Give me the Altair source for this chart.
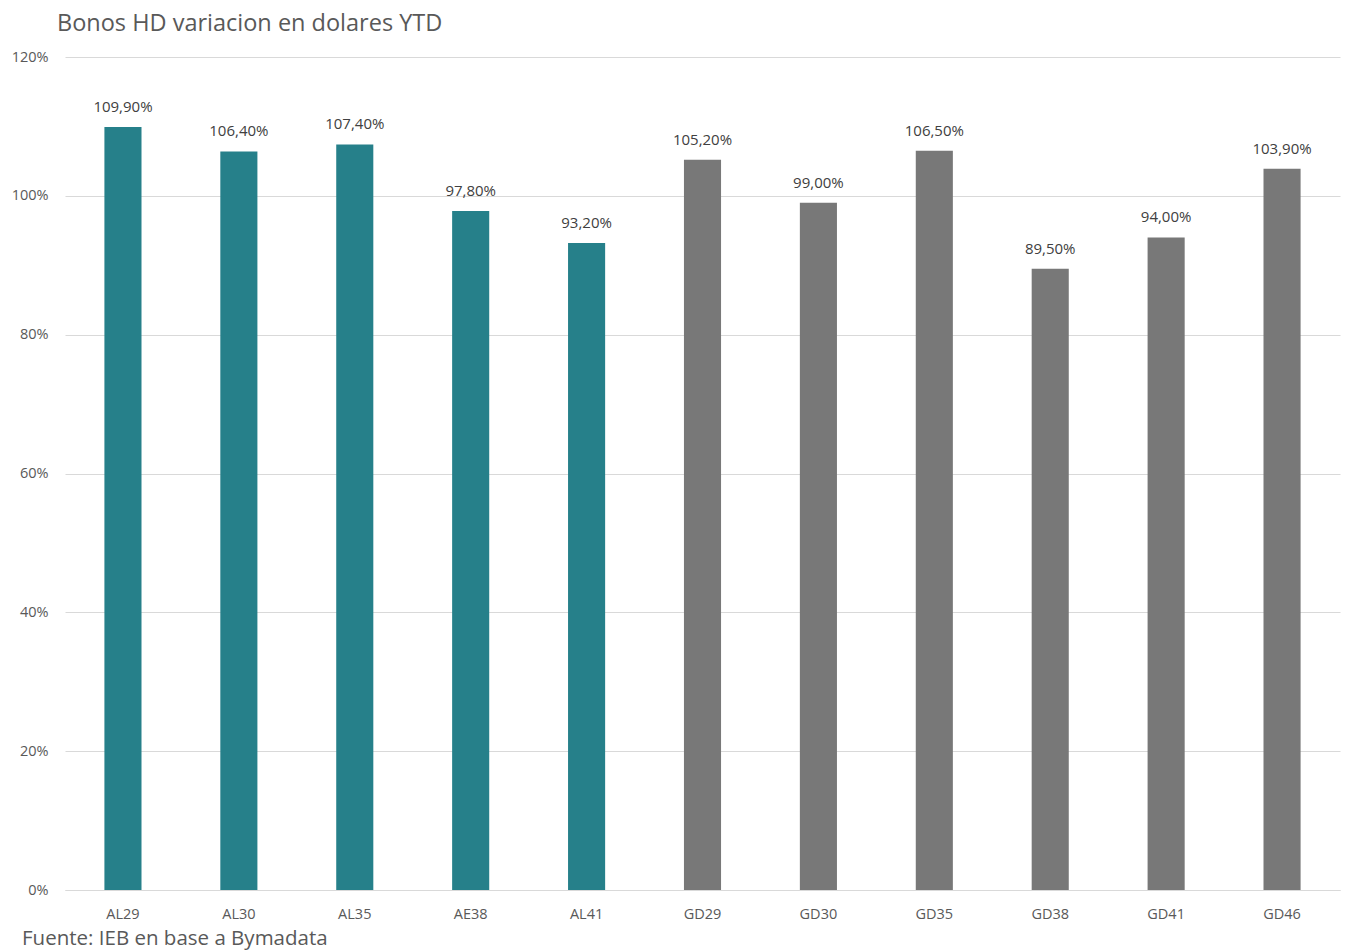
import altair as alt
import pandas as pd

bonds = ["AL29", "AL30", "AL35", "AE38", "AL41", "GD29", "GD30", "GD35", "GD38", "GD41", "GD46"]
values = [109.9, 106.4, 107.4, 97.8, 93.2, 105.2, 99.0, 106.5, 89.5, 94.0, 103.9]
groups = ["AL", "AL", "AL", "AL", "AL", "GD", "GD", "GD", "GD", "GD", "GD"]

df = pd.DataFrame({
    "bond": bonds,
    "value": [v / 100 for v in values],
    "group": groups,
    "label": [f"{v:.2f}".replace(".", ",") + "%" for v in values],
})

W, H = 1275, 833
FONT = "Open Sans"

base = alt.Chart(df).encode(
    x=alt.X("bond:N", sort=bonds, title=None,
            scale=alt.Scale(paddingInner=0.68, paddingOuter=0.34),
            axis=alt.Axis(labelAngle=0, labelFontSize=14.5, labelColor="#595959", labelFont=FONT,
                          ticks=False, domainColor="#d9d9d9", labelPadding=17)),
    y=alt.Y("value:Q", title=None,
            scale=alt.Scale(domain=[0, 1.2], nice=False),
            axis=alt.Axis(values=[0, 0.2, 0.4, 0.6, 0.8, 1.0, 1.2], format=".0%",
                          labelFontSize=14.5, labelColor="#595959", labelFont=FONT,
                          ticks=False, domain=False, gridColor="#d9d9d9", labelPadding=17)),
)

bars = base.mark_bar().encode(
    color=alt.Color("group:N", scale=alt.Scale(domain=["AL", "GD"], range=["#26808a", "#787878"]), legend=None)
)

labels = base.mark_text(dy=-20, fontSize=15, font=FONT, color="#404040").encode(text="label:N")

footer = alt.Chart(pd.DataFrame({"t": ["Fuente: IEB en base a Bymadata"]})).mark_text(
    align="left", baseline="middle", fontSize=20.5, font=FONT, color="#595959"
).encode(text="t:N", x=alt.value(-43), y=alt.value(H + 49))

chart = alt.layer(bars, labels, footer).properties(
    width=W, height=H,
    padding={"left": 65, "top": 57, "right": 8, "bottom": 62},
    autosize=alt.AutoSizeParams(type="none"),
    title=alt.TitleParams("Bonos HD variacion en dolares YTD", anchor="start", fontSize=23.5,
                          font=FONT, fontWeight="normal", color="#595959", dx=-8, offset=14,
                          frame="group"),
).configure_view(stroke=None)

chart.save("out.html", embed_options={"renderer": "svg", "actions": False})
